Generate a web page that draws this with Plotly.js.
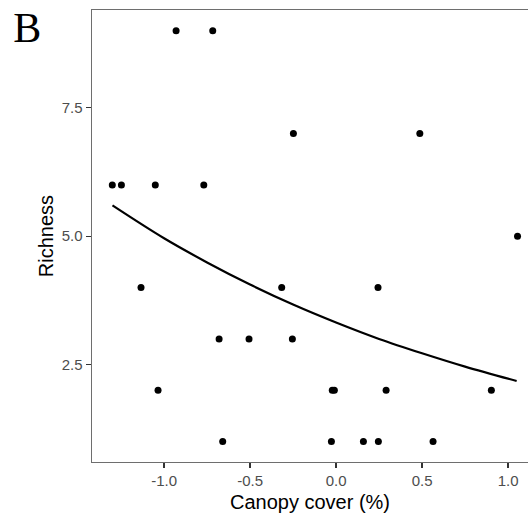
<!DOCTYPE html>
<html>
<head>
<meta charset="utf-8">
<script src="https://cdn.plot.ly/plotly-3.0.1.min.js"></script>
<style>html,body{margin:0;padding:0;background:#fff;}#chart{width:528px;height:523px;}</style>
</head>
<body>
<div id="chart"></div>
<script>
// Observed points: canopy cover (scaled) vs richness
const canopyCover = [-0.930, -0.717, -0.248, 0.487, -1.301, -1.248, -1.051, -0.769, 1.055,
  -1.134, -0.316, 0.244, -0.680, -0.506, -0.254, -1.035, -0.022, -0.010, 0.291, 0.903,
  -0.659, -0.027, 0.159, 0.246, 0.564];
const richness = [9, 9, 7, 7, 6, 6, 6, 6, 5,
  4, 4, 4, 3, 3, 3, 2, 2, 2, 2, 2,
  1, 1, 1, 1, 1];

// Fitted curve
const fitX = [-1.30, -1.00, -0.75, -0.50, -0.25, 0.00, 0.25, 0.50, 0.75, 1.05];
const fitY = [5.60, 4.96, 4.49, 4.06, 3.67, 3.32, 3.00, 2.72, 2.46, 2.18];

const xTicks = [-1.0, -0.5, 0.0, 0.5, 1.0];
const xTickText = ['-1.0', '-0.5', '0.0', '0.5', '1.0'];
const yTicks = [2.5, 5.0, 7.5];
const yTickText = ['2.5', '5.0', '7.5'];

const traces = [
  {x: fitX, y: fitY, type: 'scatter', mode: 'lines',
   line: {color: '#000', width: 2.2, shape: 'spline'}, hoverinfo: 'skip'},
  {x: canopyCover, y: richness, type: 'scatter', mode: 'markers',
   marker: {color: '#000', size: 7}}
];

const layout = {
  width: 528, height: 523,
  margin: {l: 92, r: 0, t: 10, b: 61},
  paper_bgcolor: '#fff', plot_bgcolor: '#fff',
  showlegend: false,
  font: {family: 'Liberation Sans, Arial, sans-serif'},
  title: {text: 'B', xref: 'container', yref: 'container', x: 0.025, xanchor: 'left',
          y: 0.975, yanchor: 'top',
          font: {family: 'Liberation Serif, Times New Roman, serif', size: 42, color: '#000'}},
  xaxis: {
    range: [-1.419, 1.116], autorange: false,
    tickvals: xTicks, ticktext: xTickText,
    showgrid: false, zeroline: false,
    showline: true, linecolor: '#6e6e6e', linewidth: 1.4, mirror: true,
    ticks: 'outside', ticklen: 5, tickcolor: '#333', tickwidth: 1.2,
    tickfont: {size: 15, color: '#4d4d4d'},
    title: {text: 'Canopy cover (%)', font: {size: 20, color: '#000'}, standoff: 6}
  },
  yaxis: {
    range: [0.603, 9.406], autorange: false,
    tickvals: yTicks, ticktext: yTickText,
    showgrid: false, zeroline: false,
    showline: true, linecolor: '#6e6e6e', linewidth: 1.4,
    ticks: 'outside', ticklen: 5, tickcolor: '#333', tickwidth: 1.2,
    tickfont: {size: 15, color: '#4d4d4d'},
    title: {text: 'Richness', font: {size: 20, color: '#000'}, standoff: 2}
  }
};

Plotly.newPlot('chart', traces, layout, {staticPlot: true, displayModeBar: false});
</script>
</body>
</html>
